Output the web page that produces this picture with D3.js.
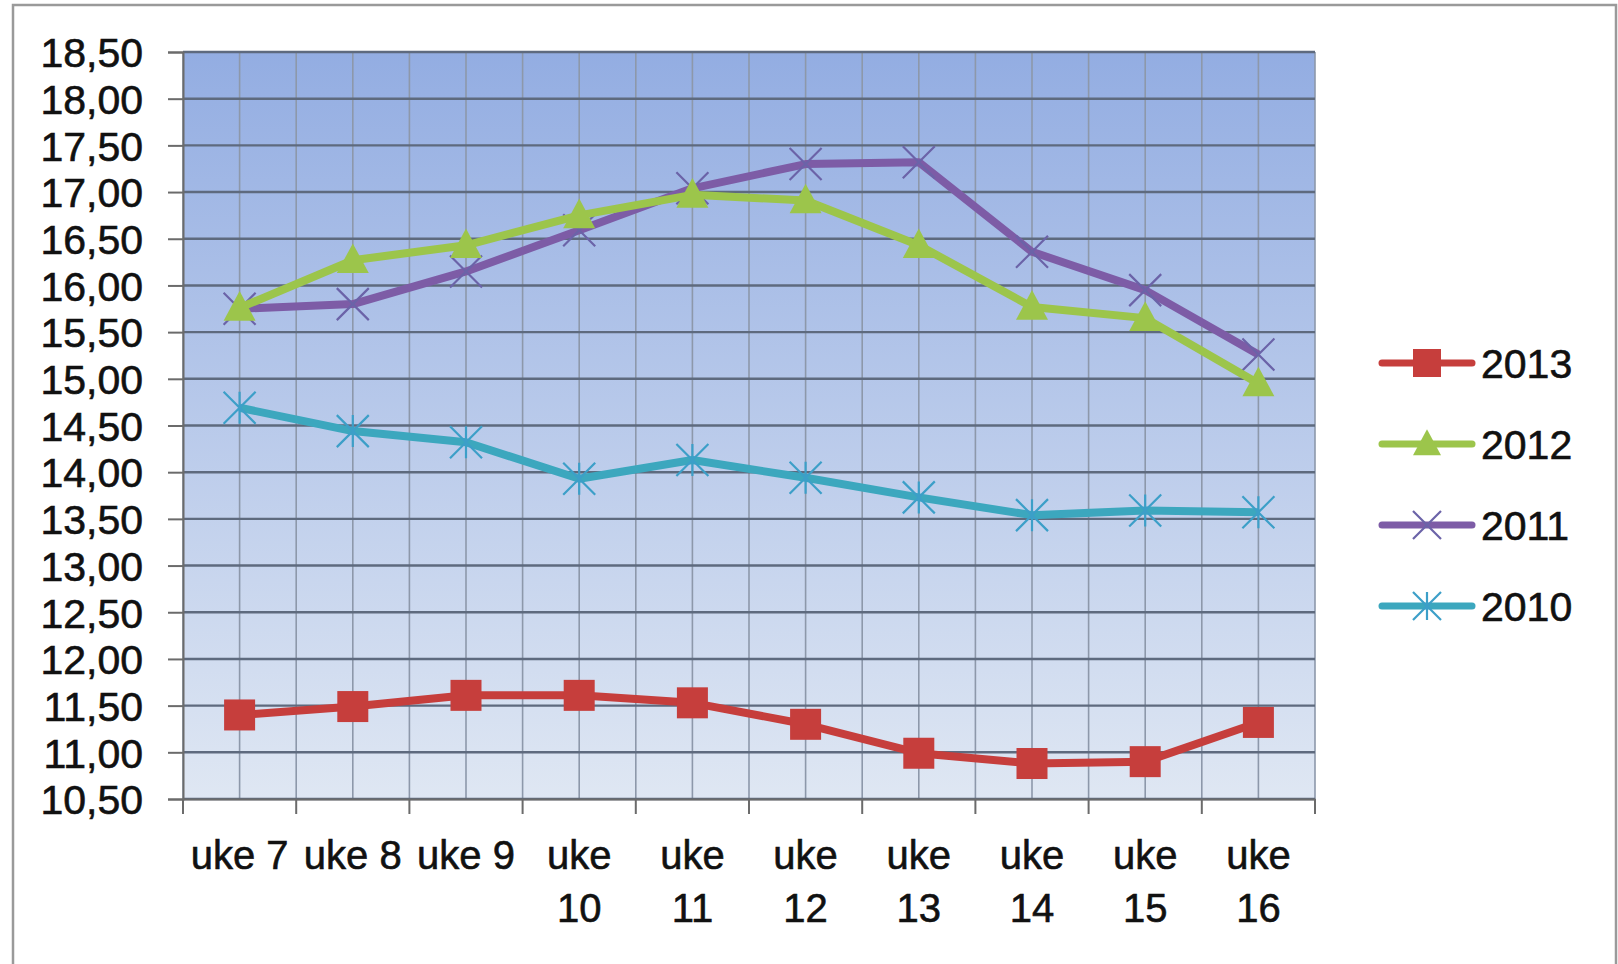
<!DOCTYPE html>
<html><head><meta charset="utf-8">
<script src="https://cdn.jsdelivr.net/npm/d3@7"></script>
<style>body{margin:0;background:#fff}svg{display:block}text{font-family:"Liberation Sans",Arial,sans-serif;fill:#111;stroke:#111;stroke-width:0.6px}</style>
</head><body>
<svg id="c" width="1618" height="964"></svg>
<script>
const categories = ["uke 7","uke 8","uke 9","uke 10","uke 11","uke 12","uke 13","uke 14","uke 15","uke 16"];
const s2013 = [11.40,11.49,11.61,11.61,11.53,11.30,10.99,10.88,10.90,11.32];
const s2012 = [15.76,16.27,16.43,16.75,16.97,16.91,16.43,15.77,15.65,14.95];
const s2011 = [15.75,15.80,16.15,16.59,17.04,17.30,17.32,16.36,15.95,15.26];
const s2010 = [14.69,14.44,14.32,13.93,14.13,13.94,13.73,13.54,13.59,13.57];
const yTicks = [10.5,11,11.5,12,12.5,13,13.5,14,14.5,15,15.5,16,16.5,17,17.5,18,18.5];
const seriesNames = ["2013","2012","2011","2010"];

const series = [
  {name:"2013", values:s2013, color:"#C63E3C", marker:"square"},
  {name:"2012", values:s2012, color:"#9CC54B", marker:"triangle"},
  {name:"2011", values:s2011, color:"#7D5CA6", marker:"x", mcolor:"#6B63A8"},
  {name:"2010", values:s2010, color:"#3CA7BE", marker:"star", mcolor:"#3C9FC8"}
];

const svg = d3.select("#c");
const L=183, R=1315, T=52, B=799;

svg.append("rect").attr("x",13).attr("y",5).attr("width",1603).attr("height",980)
  .attr("fill","#fff").attr("stroke","#9a9a9a").attr("stroke-width",2.5);

const x = d3.scaleBand().domain(categories).range([L,R]).padding(0);
const y = d3.scaleLinear().domain([10.5,18.5]).range([B,T]);

const defs = svg.append("defs");
const g = defs.append("linearGradient").attr("id","bg").attr("x1",0).attr("y1",0).attr("x2",0).attr("y2",1);
g.append("stop").attr("offset","0%").attr("stop-color","#93ADE2");
g.append("stop").attr("offset","100%").attr("stop-color","#DFE7F3");

svg.append("rect").attr("x",L).attr("y",T).attr("width",R-L).attr("height",B-T).attr("fill","url(#bg)");

const vLines = [];
categories.forEach(c=>{ vLines.push(x(c)); vLines.push(x(c)+x.bandwidth()/2); });
vLines.push(R);
svg.append("g").selectAll("line").data(vLines).join("line")
  .attr("x1",d=>d).attr("x2",d=>d).attr("y1",T).attr("y2",B)
  .attr("stroke","#8D98AA").attr("stroke-width",1.6);

svg.append("g").selectAll("line").data(yTicks).join("line")
  .attr("x1",L).attr("x2",R).attr("y1",d=>y(d)).attr("y2",d=>y(d))
  .attr("stroke","#5E6A7E").attr("stroke-width",2.4);

const fmt = d=>d3.format(".2f")(d).replace(".",",");
const yAxis = svg.append("g").attr("transform",`translate(${L},0)`)
  .call(d3.axisLeft(y).tickValues(yTicks).tickFormat(fmt).tickSize(15).tickPadding(25));
yAxis.select(".domain").attr("stroke","#6b6b6b").attr("stroke-width",2);
yAxis.selectAll(".tick line").attr("stroke","#6b6b6b").attr("stroke-width",2);
yAxis.selectAll("text").attr("font-size",41).attr("fill","#111").attr("dy","0.36em").attr("font-family","Liberation Sans, Arial, sans-serif");

const xAxis = svg.append("g").attr("transform",`translate(0,${B})`)
  .call(d3.axisBottom(x).tickSize(0).tickFormat(""));
xAxis.select(".domain").attr("stroke","#6b6b6b").attr("stroke-width",2);
const bounds = categories.map(c=>x(c)).concat([R]);
svg.append("g").selectAll("line").data(bounds).join("line")
  .attr("x1",d=>d).attr("x2",d=>d).attr("y1",B).attr("y2",B+15)
  .attr("stroke","#6b6b6b").attr("stroke-width",2);

const xl = svg.append("g");
categories.forEach(c=>{
  const cx = x(c)+x.bandwidth()/2;
  const t = xl.append("text").attr("x",cx).attr("y",869).attr("text-anchor","middle").attr("font-size",40).text(c);
  if (t.node().getComputedTextLength() > x.bandwidth()-4) {
    const parts = c.split(" ");
    t.text(parts[0]);
    xl.append("text").attr("x",cx).attr("y",922).attr("text-anchor","middle").attr("font-size",40).text(parts.slice(1).join(" "));
  }
});

function drawMarker(sel, type, color, mcolor, cx, cy, size) {
  const h=size/2;
  if (type==="square") {
    sel.append("rect").attr("x",cx-h).attr("y",cy-h).attr("width",size).attr("height",size).attr("fill",color);
  } else if (type==="triangle") {
    sel.append("path").attr("d",`M${cx},${cy-h*1.05}L${cx+h},${cy+h*0.8}L${cx-h},${cy+h*0.8}Z`).attr("fill",color);
  } else if (type==="x") {
    sel.append("path").attr("d",`M${cx-h},${cy-h}L${cx+h},${cy+h}M${cx-h},${cy+h}L${cx+h},${cy-h}`)
      .attr("stroke",mcolor).attr("stroke-width",2.2).attr("fill","none");
  } else if (type==="star") {
    sel.append("path").attr("d",`M${cx-h},${cy-h}L${cx+h},${cy+h}M${cx-h},${cy+h}L${cx+h},${cy-h}M${cx},${cy-h}L${cx},${cy+h}`)
      .attr("stroke",mcolor).attr("stroke-width",2.2).attr("fill","none");
  }
}

const line = d3.line().x((d,i)=>x(categories[i])+x.bandwidth()/2).y(d=>y(d));
series.slice().reverse().forEach(s=>{
  const gg = svg.append("g");
  gg.append("path").datum(s.values).attr("d",line).attr("fill","none")
    .attr("stroke",s.color).attr("stroke-width",8).attr("stroke-linejoin","round");
  s.values.forEach((v,i)=>drawMarker(gg,s.marker,s.color,s.mcolor,x(categories[i])+x.bandwidth()/2,y(v),s.marker==="square"?31:32));
});

const legY = d3.scalePoint().domain(seriesNames).range([363,606]);
series.forEach(s=>{
  const ly = legY(s.name);
  const lg = svg.append("g");
  lg.append("line").attr("x1",1382).attr("x2",1472).attr("y1",ly).attr("y2",ly)
    .attr("stroke",s.color).attr("stroke-width",7).attr("stroke-linecap","round");
  drawMarker(lg,s.marker,s.color,s.mcolor,1427,ly,28);
  lg.append("text").attr("x",1481).attr("y",ly+15).attr("font-size",41).text(s.name);
});
</script>
</body></html>
